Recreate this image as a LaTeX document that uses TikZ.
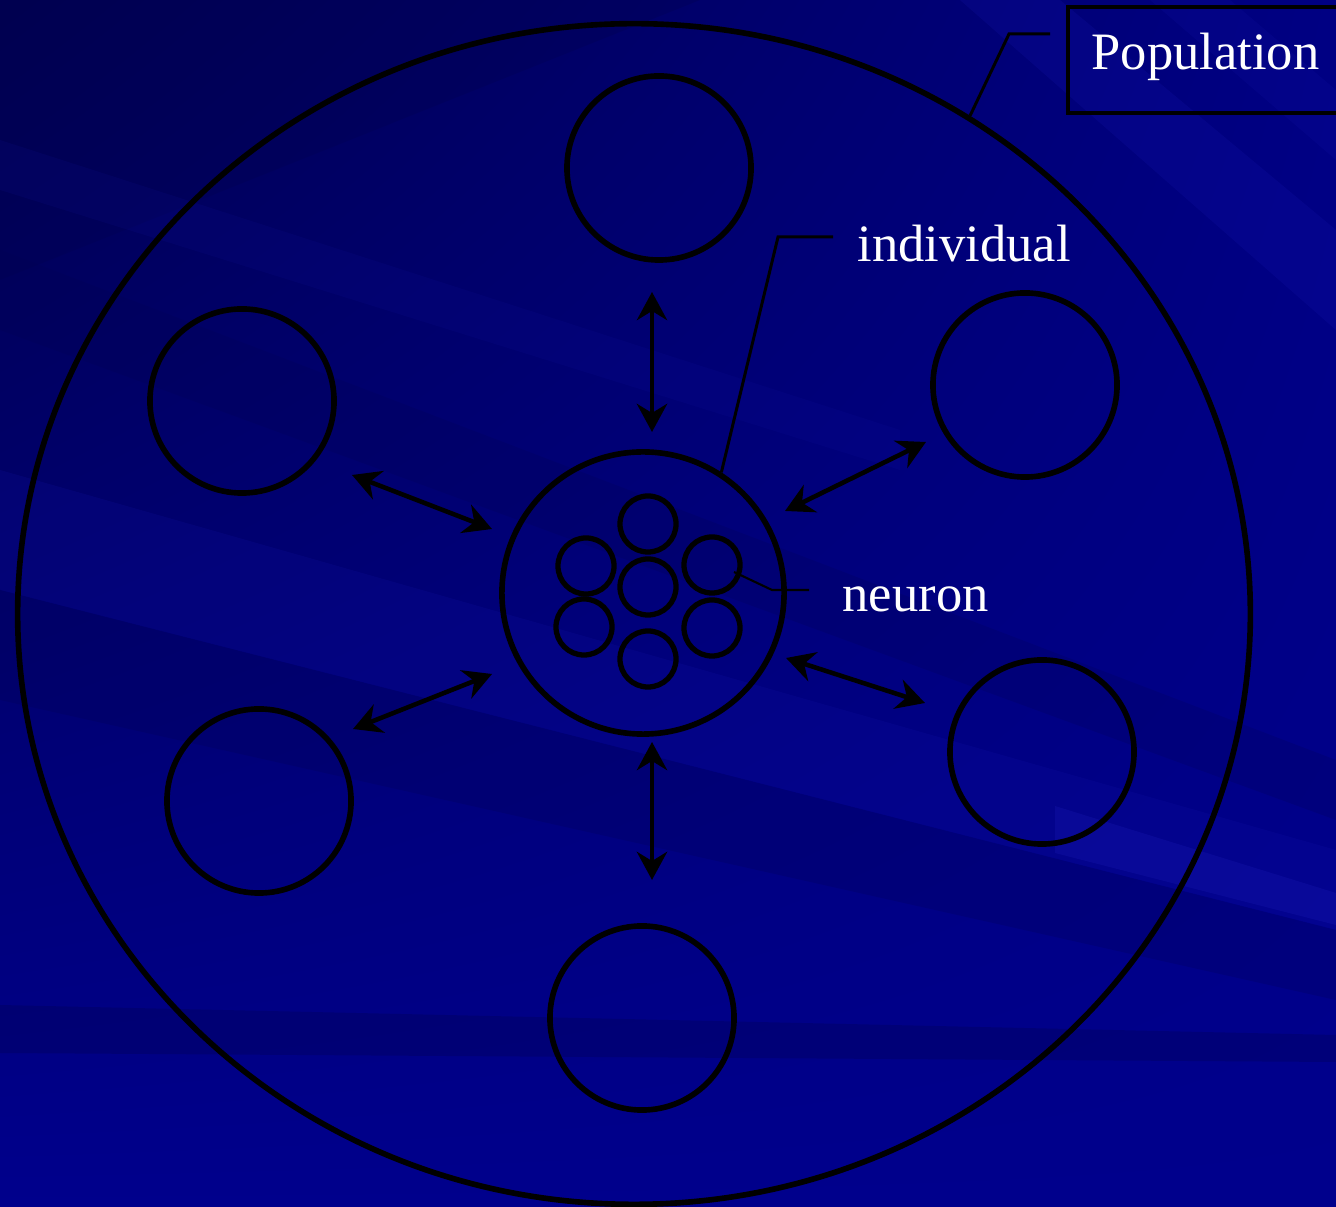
\documentclass[tikz,border=0pt]{standalone}
\usepackage{fontspec}
\setmainfont{Liberation Serif}
\usetikzlibrary{arrows.meta,shapes.geometric,shadings}
\definecolor{bgbase}{HTML}{00008C}
\definecolor{bgdark}{HTML}{000050}
\definecolor{bglight}{HTML}{1818B0}
\tikzset{
  ring/.style={circle, draw=black, line width=1.6pt, inner sep=0pt, minimum size=#1},
  neuronc/.style={circle, draw=black, line width=1.5pt, inner sep=0pt, minimum size=0.56cm},
  link/.style={line width=1.3pt, {Stealth[length=8pt,width=8.6pt,inset=2.6pt]}-{Stealth[length=8pt,width=8.6pt,inset=2.6pt]}},
  leader/.style={line width=0.85pt},
  lbl/.style={text=white, inner sep=0pt, font=\fontsize{14.94pt}{18pt}\selectfont},
}
\begin{document}
\begin{tikzpicture}[x=0.01cm,y=-0.01cm]
\useasboundingbox (0,0) rectangle (1336,1207);
% background
\shade[upper left=bgdark, upper right=bgbase!85!bgdark, lower left=bgbase, lower right=bgbase] (0,0) rectangle (1336,1207);
\fill[bgdark, opacity=0.3] (0,0) -- (700,0) -- (0,280) -- cycle;
\fill[bgdark, opacity=0.2] (0,250) -- (0,330) -- (1336,820) -- (1336,760) -- cycle;
\fill[bglight, opacity=0.1] (0,140) -- (0,190) -- (900,470) -- (900,430) -- cycle;
\fill[bglight, opacity=0.16] (0,470) -- (0,590) -- (1336,930) -- (1336,850) -- cycle;
\fill[bglight, opacity=0.2] (960,0) -- (1060,0) -- (1336,230) -- (1336,330) -- cycle;
\fill[bglight, opacity=0.14] (1150,0) -- (1230,0) -- (1336,90) -- (1336,160) -- cycle;
\fill[bgdark, opacity=0.22] (0,590) -- (0,700) -- (1336,1000) -- (1336,930) -- cycle;
\fill[bgdark, opacity=0.3] (0,1005) -- (1336,1035) -- (1336,1062) -- (0,1053) -- cycle;
\fill[bglight, opacity=0.32] (1055,806) -- (1336,893) -- (1336,925) -- (1055,853) -- cycle;
% population
\node[ellipse, draw=black, line width=1.6pt, inner sep=0pt, minimum width=12.32cm, minimum height=11.8cm] (pop) at (634,614) {};
% individuals
\node[ring=1.84cm] (top) at (659,168) {};
\node[ring=1.84cm] (ul) at (242,401) {};
\node[ring=1.84cm] (ur) at (1025,385) {};
\node[ring=1.84cm] (ll) at (259,801) {};
\node[ring=1.84cm] (lr) at (1042,752) {};
\node[ring=1.84cm] (bot) at (642,1018) {};
\node[ring=2.82cm] (ind) at (643,593) {};
% neurons
\node[neuronc] (n0) at (648,587) {};
\node[neuronc] (n1) at (648,524) {};
\node[neuronc] (n2) at (586,566) {};
\node[neuronc] (n3) at (712,565) {};
\node[neuronc] (n4) at (584,627) {};
\node[neuronc] (n5) at (712,628) {};
\node[neuronc] (n6) at (648,659) {};
% arrow ends
\coordinate (aT1) at (652,292); \coordinate (aT2) at (652,432);
\coordinate (aB1) at (652,742); \coordinate (aB2) at (652,880);
\coordinate (aUL1) at (352,475); \coordinate (aUL2) at (492,529);
\coordinate (aLL1) at (353,729); \coordinate (aLL2) at (492,674);
\coordinate (aUR1) at (926,442); \coordinate (aUR2) at (785,511);
\coordinate (aLR1) at (786,658); \coordinate (aLR2) at (925,703);
\draw[link] (aT1) -- (aT2);
\draw[link] (aB1) -- (aB2);
\draw[link] (aUL1) -- (aUL2);
\draw[link] (aLL1) -- (aLL2);
\draw[link] (aUR1) -- (aUR2);
\draw[link] (aLR1) -- (aLR2);
% labels
\node[draw=black, line width=0.9pt, inner sep=0pt, minimum width=2.8cm, minimum height=1.06cm] (popbox) at (1208,60) {};
\node[lbl, anchor=base west] (poplbl) at (1091,70) {Population};
\node[lbl, anchor=base west] (indlbl) at (857,262) {individual};
\node[lbl, anchor=base west] (neulbl) at (842,612) {neuron};
\coordinate (popend) at (1050,34);
\coordinate (indend) at (833,237);
\coordinate (neustart) at (734,572);
\coordinate (neuend) at (809,590);
\draw[leader] (pop.56.5) -- (1009,34) -- (popend);
\draw[leader] (ind.57) -- (778,237) -- (indend);
\draw[leader, line width=0.6pt] (neustart) -- (772,590) -- (neuend);
\end{tikzpicture}
\end{document}
